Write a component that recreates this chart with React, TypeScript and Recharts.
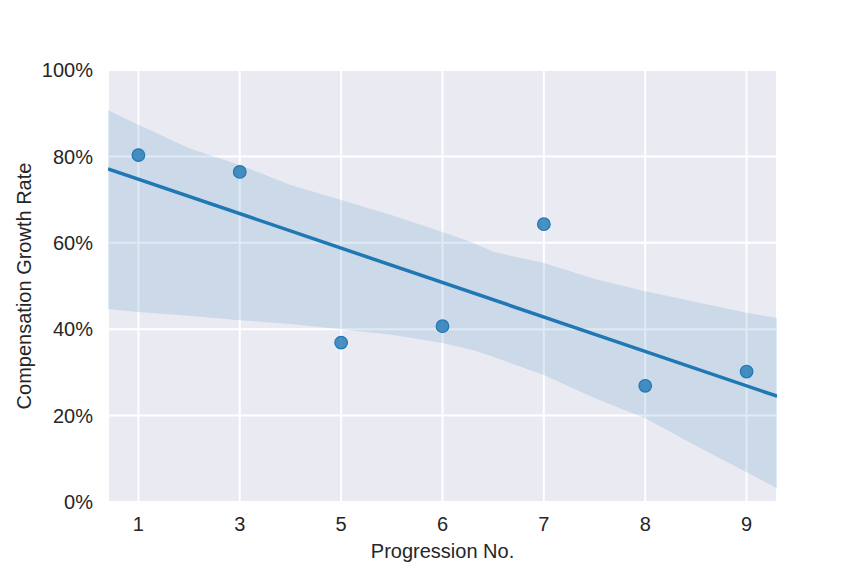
import React from "react";
import {
  ComposedChart,
  Area,
  Line,
  Scatter,
  XAxis,
  YAxis,
  CartesianGrid,
} from "recharts";

// Category labels (equally spaced positions 0..6)
const xLabels = ["1", "3", "5", "6", "7", "8", "9"];
// Observed growth rates (%)
const pointValues = [80.3, 76.4, 36.9, 40.7, 64.3, 26.9, 30.2];
// Confidence band sampled along x (position index)
const bandX = [-0.3, 0, 0.5, 1, 1.5, 2, 2.5, 3, 3.3, 3.5, 4, 4.5, 5, 5.5, 6, 6.3];
const bandLow = [44.7, 44.0, 43.1, 42.1, 41.2, 40.0, 38.7, 36.8, 35.2, 33.6, 29.4, 24.1, 19.4, 13.0, 6.9, 3.2];
const bandHigh = [90.7, 87.3, 81.9, 78.0, 73.4, 69.9, 66.4, 62.5, 60.0, 57.9, 55.3, 51.6, 48.8, 46.3, 43.8, 42.6];
// Regression line endpoints
const fitX = [-0.3, 6.3];
const fitY = [77.1, 24.5];
const yTicks = [0, 20, 40, 60, 80, 100];

const table = bandX.map((x, i) => {
  const fi = fitX.indexOf(x);
  return {
    x,
    band: [bandLow[i], bandHigh[i]],
    fit: fi >= 0 ? fitY[fi] : undefined,
  };
});
const points = pointValues.map((v, i) => ({ x: i, y: v }));

const FONT = "'Liberation Sans', Arial, sans-serif";
const TEXT = "#262626";
const BLUE = "#1f77b4";
const FS = 20;

const Dot = (props: any) => {
  const { cx, cy } = props;
  if (cx == null || cy == null) return null;
  return (
    <circle cx={cx} cy={cy} r={6.3} fill={BLUE} fillOpacity={0.8} stroke={BLUE} strokeWidth={1.2} />
  );
};

export default function App() {
  return (
    <div style={{ position: "absolute", left: 0, top: 0, width: 864, height: 576, background: "#fff" }}>
      <ComposedChart
        width={864}
        height={576}
        data={table}
        margin={{ top: 70, right: 87, bottom: 0, left: 8 }}
      >
        <CartesianGrid fill="#EAEAF2" stroke="#ffffff" strokeWidth={2} horizontal vertical />
        <XAxis
          type="number"
          dataKey="x"
          domain={[-0.3, 6.3]}
          allowDataOverflow
          ticks={[0, 1, 2, 3, 4, 5, 6]}
          tickFormatter={(v: number) => xLabels[v] ?? ""}
          axisLine={false}
          tickLine={false}
          tickSize={0}
          tickMargin={15}
          height={74}
          tick={{ fill: TEXT, fontSize: FS, fontFamily: FONT }}
          label={{
            content: (p: any) => {
              const vb = p.viewBox || {};
              return (
                <text
                  x={vb.x + vb.width / 2}
                  y={558}
                  textAnchor="middle"
                  fill={TEXT}
                  fontSize={FS}
                  fontFamily={FONT}
                >
                  Progression No.
                </text>
              );
            },
          }}
        />
        <YAxis
          type="number"
          domain={[0, 100]}
          ticks={yTicks}
          allowDataOverflow
          tickFormatter={(v: number) => `${v}%`}
          axisLine={false}
          tickLine={false}
          tickSize={0}
          tickMargin={15}
          width={100}
          tick={{ fill: TEXT, fontSize: FS, fontFamily: FONT }}
          label={{
            content: (p: any) => {
              const vb = p.viewBox || {};
              const cy = vb.y + vb.height / 2;
              return (
                <text
                  x={31}
                  y={cy}
                  transform={`rotate(-90, 31, ${cy})`}
                  textAnchor="middle"
                  fill={TEXT}
                  fontSize={FS}
                  fontFamily={FONT}
                >
                  Compensation Growth Rate
                </text>
              );
            },
          }}
        />
        <Area
          type="linear"
          dataKey="band"
          stroke="none"
          fill={BLUE}
          fillOpacity={0.15}
          isAnimationActive={false}
          dot={false}
          activeDot={false}
        />
        <Line
          type="linear"
          dataKey="fit"
          stroke={BLUE}
          strokeWidth={3.5}
          dot={false}
          activeDot={false}
          connectNulls
          isAnimationActive={false}
        />
        <Scatter data={points} dataKey="y" shape={<Dot />} isAnimationActive={false} />
      </ComposedChart>
    </div>
  );
}
